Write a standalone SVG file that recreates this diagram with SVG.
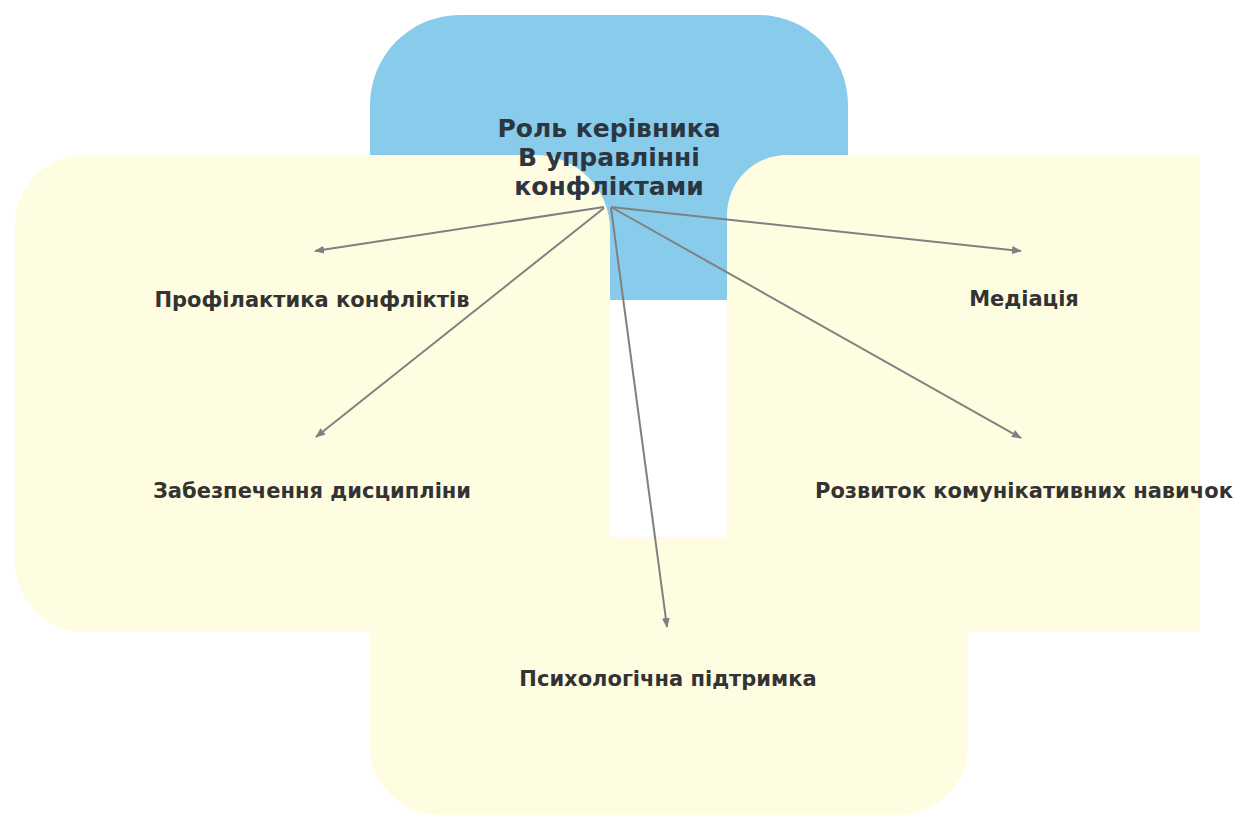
<svg xmlns="http://www.w3.org/2000/svg" width="1245" height="816" viewBox="0 0 1245 816">
<style>
.blue{fill:#88CBEA}
.yel{fill:#FFFDE1}
.ctr{font-family:"DejaVu Sans",Verdana,sans-serif;font-weight:bold;font-size:25px;fill:#2b3640;text-anchor:middle}
.lbl{font-family:"DejaVu Sans",Verdana,sans-serif;font-weight:bold;font-size:21px;fill:#333333;text-anchor:middle}
.edge{stroke:#808080;stroke-width:2;fill:none;marker-end:url(#arr)}
</style>
<defs>
<marker id="arr" viewBox="0 0 10 10" refX="9" refY="5" markerWidth="10" markerHeight="10" markerUnits="userSpaceOnUse" orient="auto">
<path d="M0,1 L10,5 L0,9 Z" fill="#808080"/>
</marker>
</defs>
<rect width="1245" height="816" fill="#ffffff"/>
<g id="node-root">
<rect class="blue" x="370" y="15" width="478" height="285" rx="90" ry="90"/>
</g>
<g id="node-profilaktyka">
<path class="yel" d="M15,225 A70,70 0 0 1 85,155 L535,155 A75,75 0 0 1 610,230 L610,400 L15,400 Z"/>
<text class="lbl" x="312" y="307">Профілактика конфліктів</text>
</g>
<g id="node-dystsyplina">
<path class="yel" d="M15,399 L610,399 L610,632 L85,632 A70,70 0 0 1 15,562 Z"/>
<text class="lbl" x="312" y="498">Забезпечення дисципліни</text>
</g>
<g id="node-mediatsiia">
<path class="yel" d="M727,400 L727,215 A60,60 0 0 1 787,155 L1200,155 L1200,400 Z"/>
<text class="lbl" x="1024" y="306">Медіація</text>
</g>
<g id="node-rozvytok">
<rect class="yel" x="727" y="399" width="473" height="233"/>
<text class="lbl" x="1024" y="498">Розвиток комунікативних навичок</text>
</g>
<g id="node-psykholohichna">
<path class="yel" d="M370,537 L968,537 L968,745 A70,70 0 0 1 898,815 L440,815 A70,70 0 0 1 370,745 Z"/>
<text class="lbl" x="668" y="686">Психологічна підтримка</text>
</g>
<g id="root-label">
<text class="ctr" x="609" y="137">Роль керівника</text>
<text class="ctr" x="609" y="166">В управлінні</text>
<text class="ctr" x="609" y="195">конфліктами</text>
</g>
<g id="connectors">
<line class="edge" x1="604" y1="207" x2="315" y2="251"/>
<line class="edge" x1="604" y1="208" x2="316" y2="437"/>
<line class="edge" x1="611" y1="207" x2="1021" y2="251"/>
<line class="edge" x1="611" y1="207" x2="1021" y2="438"/>
<line class="edge" x1="611" y1="208" x2="667" y2="627"/>
</g>
</svg>
